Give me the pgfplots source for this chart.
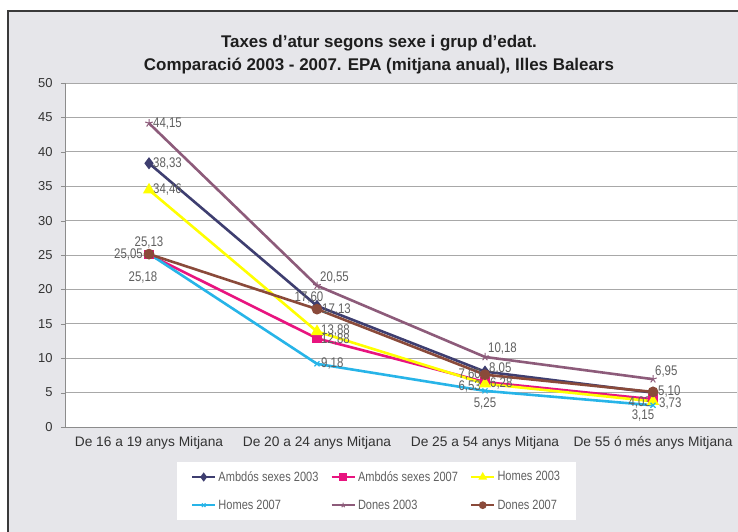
\documentclass[border=0pt]{standalone}
\usepackage{pgfplots}
\pgfplotsset{compat=1.18}
\usepackage{fontspec}
\setmainfont{Liberation Sans}
\newfontfamily\condfont[FakeStretch=0.82]{Liberation Sans}
\definecolor{bggray}{HTML}{E6E6EA}
\definecolor{framecol}{HTML}{3A3A3A}
\definecolor{gridcol}{HTML}{A8A8A8}
\definecolor{axcol}{HTML}{8C8C8C}
\definecolor{tickcol}{HTML}{333333}
\definecolor{titlecol}{HTML}{1E1E1E}
\definecolor{labcol}{HTML}{606060}
\definecolor{cA}{HTML}{3E3E70}
\definecolor{cB}{HTML}{E8147F}
\definecolor{cC}{HTML}{FFFF00}
\definecolor{cD}{HTML}{27B4E8}
\definecolor{cE}{HTML}{8D5B7A}
\definecolor{cF}{HTML}{8A4A3A}
\begin{document}
\begin{tikzpicture}
\useasboundingbox (0bp,0bp) rectangle (738bp,532bp);
\fill[white] (0bp,0bp) rectangle (738bp,532bp);
\fill[bggray] (8bp,0bp) rectangle (738bp,521bp);
\draw[framecol, line width=2bp] (8bp,0bp) -- (8bp,521bp) -- (738bp,521bp);
\node[font=\bfseries\fontsize{17}{20}\selectfont, text=titlecol] at (379bp,489bp) {Taxes d'atur segons sexe i grup d'edat.};
\node[font=\bfseries\fontsize{17}{20}\selectfont, text=titlecol] at (379bp,466bp) {Comparació 2003 - 2007. EPA (mitjana anual), Illes Balears};
\begin{axis}[
  at={(65bp,105bp)}, anchor=south west,
  scale only axis, width=672bp, height=344bp,
  xmin=-0.5, xmax=3.5, ymin=0, ymax=50,
  xtick={0,1,2,3},
  xticklabels={De 16 a 19 anys Mitjana, De 20 a 24 anys Mitjana, De 25 a 54 anys Mitjana, De 55 ó més anys Mitjana},
  ytick={0,5,...,50},
  /pgf/number format/assume math mode=true,
  major x tick style={draw=none},
  extra x ticks={-0.5,0.5,1.5,2.5},
  extra x tick labels={},
  extra x tick style={major tick length=4bp, tick align=outside, tick style={draw=axcol}, grid=none},
  ytick align=outside, major tick length=4bp,
  ymajorgrids, grid style={gridcol, line width=0.8bp},
  axis x line*=bottom, axis y line*=left,
  axis line style={axcol, line width=0.8bp},
  tick style={axcol},
  axis background/.style={fill=white},
  ticklabel style={font=\fontsize{13}{15}\selectfont, text=tickcol},
  yticklabel style={xshift=-5bp},
  xticklabel style={font=\fontsize{13.8}{16}\selectfont, yshift=-6bp},
  legend columns=3,
  legend cell align=left,
  legend style={at={(0.4635,-0.186)}, anchor=center, draw=none, fill=white,
    font=\condfont\fontsize{13.5}{15}\selectfont, text=labcol,
    inner xsep=14bp, inner ysep=7bp, row sep=13bp,
    /tikz/every even column/.append style={column sep=10bp}},
  legend image code/.code={\draw[mark repeat=2,mark phase=2, mark size=2.5bp] plot coordinates {(0bp,0bp)(11.5bp,0bp)(23bp,0bp)};},
  every axis plot/.append style={line width=2.6bp},
  clip=false,
]
\addplot[cA, mark=diamond*, mark size=4bp, mark options={solid}] coordinates {(0,38.33) (1,17.60) (2,8.05) (3,5.00)};
\addlegendentry{Ambdós sexes 2003}
\addplot[cB, mark=square*, mark size=3.5bp] coordinates {(0,25.05) (1,12.88) (2,6.53) (3,4.03)};
\addlegendentry{Ambdós sexes 2007}
\addplot[cC, mark=triangle*, mark size=4.5bp] coordinates {(0,34.46) (1,13.88) (2,6.28) (3,3.73)};
\addlegendentry{Homes 2003}
\addplot[cD, mark=x, mark size=3.5bp, mark options={line width=1.2bp}] coordinates {(0,25.18) (1,9.18) (2,5.25) (3,3.15)};
\addlegendentry{Homes 2007}
\addplot[cE, mark=star, mark size=4bp, mark options={line width=1bp}] coordinates {(0,44.15) (1,20.55) (2,10.18) (3,6.95)};
\addlegendentry{Dones 2003}
\addplot[cF, mark=*, mark size=4bp] coordinates {(0,25.13) (1,17.13) (2,7.60) (3,5.10)};
\addlegendentry{Dones 2007}
\begin{scope}[every node/.style={font=\condfont\fontsize{14}{16}\selectfont, text=labcol, inner sep=1bp}]
\node[anchor=west, xshift=3bp] at (axis cs:0,44.15) {44,15};
\node[anchor=west, xshift=3bp] at (axis cs:0,38.33) {38,33};
\node[anchor=west, xshift=3bp] at (axis cs:0,34.46) {34,46};
\node[anchor=south, yshift=5bp] at (axis cs:0,25.13) {25,13};
\node[anchor=east, xshift=-5bp] at (axis cs:0,25.05) {25,05};
\node[anchor=north, xshift=-6bp, yshift=-17bp] at (axis cs:0,25.18) {25,18};
\node[anchor=south west, xshift=2bp, yshift=1bp] at (axis cs:1,20.55) {20,55};
\node[anchor=south, xshift=-8bp, yshift=1bp] at (axis cs:1,17.60) {17,60};
\node[anchor=west, xshift=4bp] at (axis cs:1,17.13) {17,13};
\node[anchor=west, xshift=3bp, yshift=1bp] at (axis cs:1,13.88) {13,88};
\node[anchor=west, xshift=3bp, yshift=-1bp] at (axis cs:1,12.88) {12,88};
\node[anchor=west, xshift=3bp] at (axis cs:1,9.18) {9,18};
\node[anchor=south west, xshift=2bp, yshift=1bp] at (axis cs:2,10.18) {10,18};
\node[anchor=west, xshift=3bp, yshift=3bp] at (axis cs:2,8.05) {8,05};
\node[anchor=east, xshift=-3bp] at (axis cs:2,7.60) {7,60};
\node[anchor=east, xshift=-3bp, yshift=-4bp] at (axis cs:2,6.53) {6,53};
\node[anchor=west, xshift=4bp] at (axis cs:2,6.28) {6,28};
\node[anchor=north, yshift=-6bp] at (axis cs:2,5.25) {5,25};
\node[anchor=south west, xshift=1bp, yshift=1bp] at (axis cs:3,6.95) {6,95};
\node[anchor=west, xshift=4bp] at (axis cs:3,5.10) {5,10};
\node[anchor=east, xshift=-1bp, yshift=-3bp] at (axis cs:3,4.03) {4,03};
\node[anchor=west, xshift=5bp, yshift=-2bp] at (axis cs:3,3.73) {3,73};
\node[anchor=north, xshift=-10bp, yshift=-3bp] at (axis cs:3,3.15) {3,15};
\end{scope}
\end{axis}
\end{tikzpicture}
\end{document}
